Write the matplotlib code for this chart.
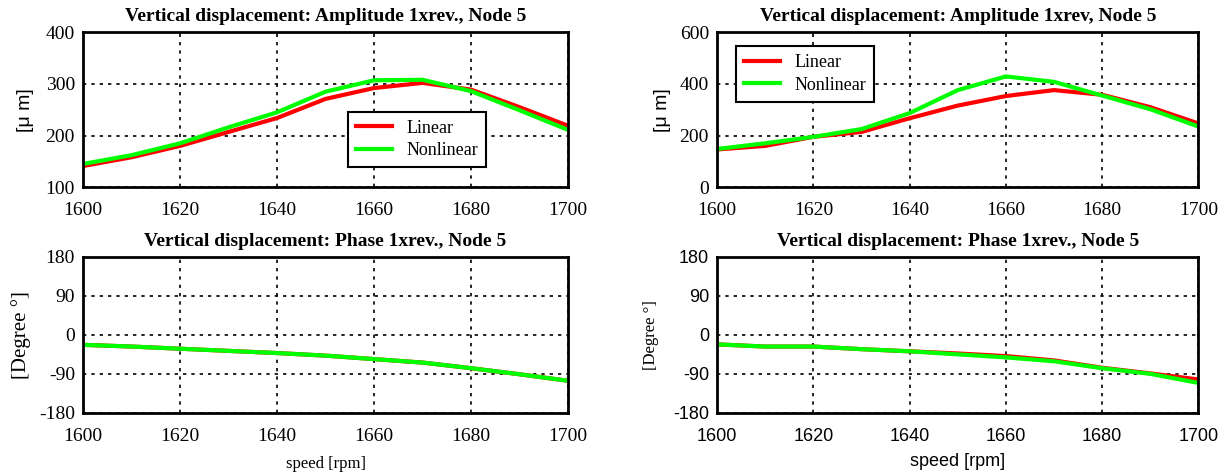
import matplotlib
matplotlib.use("Agg")
import matplotlib.pyplot as plt

plt.rcParams["axes.unicode_minus"] = False

speed = [1600, 1610, 1620, 1630, 1640, 1650, 1660, 1670, 1680, 1690, 1700]

# amplitude [um], left case
amp_lin_a = [141, 158, 180, 207, 234, 271, 292, 302, 289, 255, 219]
amp_non_a = [145, 162, 185, 216, 245, 285, 307, 308, 286, 249, 211]
# amplitude [um], right case
amp_lin_b = [146, 160, 195, 214, 267, 316, 353, 376, 358, 310, 247]
amp_non_b = [148, 170, 195, 225, 287, 376, 429, 408, 355, 302, 235]

# phase [deg]
ph_lin_a = [-23, -27, -32, -37, -42, -48, -56, -64, -77, -91, -106]
ph_non_a = [-23, -27, -32, -37, -42, -48, -56, -64, -77, -91, -106]
ph_lin_b = [-22, -27, -27, -33, -38, -43, -49, -59, -76, -89, -103]
ph_non_b = [-22, -27, -27, -33, -38, -45, -52, -61, -77, -90, -111]

serif = "Liberation Serif"
sans = "Liberation Sans"

fig = plt.figure(figsize=(12.24, 4.75), dpi=100)
ax1 = fig.add_axes([0.068, 0.606, 0.396, 0.326])
ax2 = fig.add_axes([0.586, 0.606, 0.393, 0.326])
ax3 = fig.add_axes([0.068, 0.131, 0.396, 0.328])
ax4 = fig.add_axes([0.586, 0.131, 0.393, 0.328])


def style(ax, tickfont, size):
    ax.set_xlim(1600, 1700)
    ax.set_xticks(range(1600, 1701, 20))
    ax.grid(True, color="black", linestyle=(0, (2, 3)), linewidth=1.2)
    for s in ax.spines.values():
        s.set_linewidth(2)
    ax.tick_params(direction="in", length=0, labelsize=size)
    ax.tick_params(axis="x", pad=11)
    ax.tick_params(axis="y", pad=6)
    for lab in ax.get_xticklabels() + ax.get_yticklabels():
        lab.set_family(tickfont)


title_kw = dict(fontsize=14, fontweight="bold", family=serif, pad=8)
legend_kw = dict(fancybox=False, edgecolor="black", prop={"family": serif, "size": 13},
                 handlelength=2.0, borderpad=0.45, labelspacing=0.3, framealpha=1)

# amplitude, left
ax1.plot(speed, amp_lin_a, color="#ff0000", lw=3, label="Linear")
ax1.plot(speed, amp_non_a, color="#00ff00", lw=3, label="Nonlinear")
ax1.set_ylim(100, 400)
ax1.set_yticks([100, 200, 300, 400])
style(ax1, serif, 14)
ax1.set_title("Vertical displacement: Amplitude 1xrev., Node 5", **title_kw)
ax1.set_ylabel("[\u03bc m]", fontsize=14, family=sans, labelpad=8)
leg = ax1.legend(loc="lower right", bbox_to_anchor=(0.85, 0.07), **legend_kw)
leg.get_frame().set_linewidth(1.5)

# amplitude, right
ax2.plot(speed, amp_lin_b, color="#ff0000", lw=3, label="Linear")
ax2.plot(speed, amp_non_b, color="#00ff00", lw=3, label="Nonlinear")
ax2.set_ylim(0, 600)
ax2.set_yticks([0, 200, 400, 600])
style(ax2, serif, 14)
ax2.set_title("Vertical displacement: Amplitude 1xrev, Node 5", **title_kw)
ax2.set_ylabel("[\u03bc m]", fontsize=14, family=sans, labelpad=6)
leg = ax2.legend(loc="upper left", bbox_to_anchor=(0.02, 0.97), **legend_kw)
leg.get_frame().set_linewidth(1.5)

# phase, left
ax3.plot(speed, ph_lin_a, color="#ff0000", lw=3)
ax3.plot(speed, ph_non_a, color="#00ff00", lw=3)
ax3.set_ylim(-180, 180)
ax3.set_yticks([-180, -90, 0, 90, 180])
style(ax3, serif, 14)
ax3.set_title("Vertical displacement: Phase 1xrev., Node 5", **title_kw)
ax3.set_ylabel("[Degree \u00b0]", fontsize=15, family=serif, labelpad=6)
ax3.set_xlabel("speed [rpm]", fontsize=12, family=serif, labelpad=8)

# phase, right
ax4.plot(speed, ph_lin_b, color="#ff0000", lw=3)
ax4.plot(speed, ph_non_b, color="#00ff00", lw=3)
ax4.set_ylim(-180, 180)
ax4.set_yticks([-180, -90, 0, 90, 180])
style(ax4, sans, 13)
ax4.set_title("Vertical displacement: Phase 1xrev., Node 5", **title_kw)
ax4.set_ylabel("[Degree \u00b0]", fontsize=12, family=serif, labelpad=10)
ax4.set_xlabel("speed [rpm]", fontsize=13, family=sans, labelpad=6)

fig.savefig("out.png", dpi=100)
